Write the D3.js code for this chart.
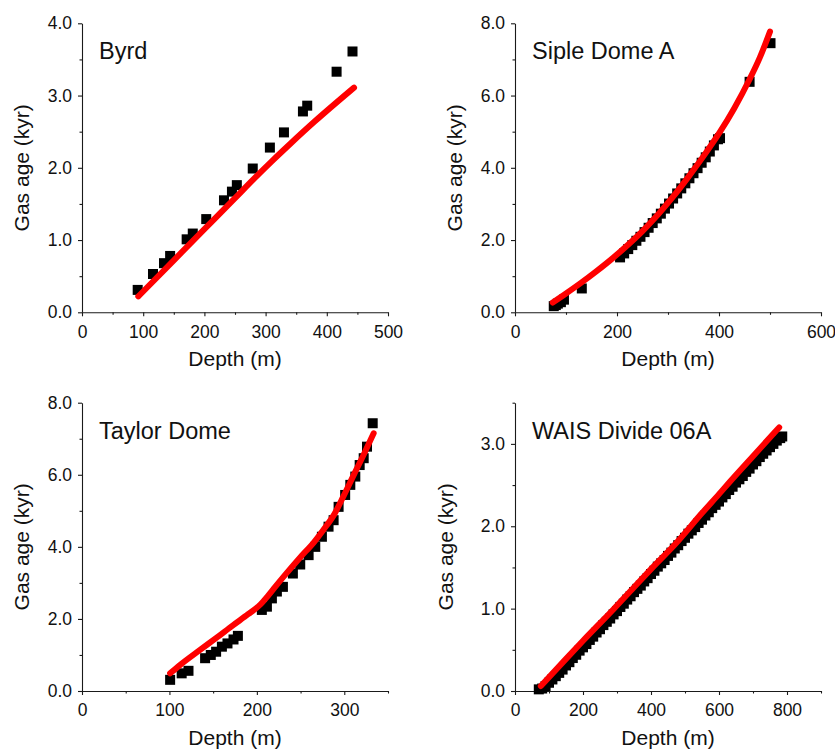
<!DOCTYPE html>
<html>
<head>
<meta charset="utf-8">
<script src="https://cdn.jsdelivr.net/npm/d3@7"></script>
<style>
  html, body { margin: 0; padding: 0; background: #fff; }
  svg { display: block; font-family: "Liberation Sans", Arial, Helvetica, sans-serif; }
</style>
</head>
<body>
<svg id="chart" width="835" height="751"></svg>
<script>
// ---- Byrd ----
const byrdDepth = [91, 116, 134, 144, 171, 181, 203, 232, 245, 253, 279, 307, 330, 361, 368, 416, 442];
const byrdAge   = [0.31, 0.53, 0.68, 0.78, 1.01, 1.09, 1.29, 1.55, 1.67, 1.76, 1.99, 2.28, 2.49, 2.78, 2.86, 3.33, 3.61];
const byrdFitDepth = [92, 150, 200, 250, 280, 310, 340, 380, 444.5];
const byrdFitAge   = [0.22, 0.72, 1.15, 1.58, 1.84, 2.09, 2.33, 2.64, 3.11];

// ---- Siple Dome A ----
const sipleDepth = [76, 80, 84, 90, 96, 131,
  206, 214, 222, 230, 238, 246, 254, 262, 270, 278, 286, 294, 302, 310,
  318, 326, 334, 342, 350, 358, 366, 374, 382, 390, 398, 402, 460, 501];
const sipleAge = [0.17, 0.20, 0.24, 0.28, 0.35, 0.66,
  1.52, 1.63, 1.75, 1.86, 1.98, 2.09, 2.22, 2.34, 2.47, 2.60, 2.73, 2.87, 3.01, 3.15,
  3.29, 3.43, 3.57, 3.71, 3.85, 3.99, 4.14, 4.29, 4.45, 4.62, 4.79, 4.82, 6.38, 7.45];
const sipleFitDepth = [74, 100, 130, 160, 190, 220, 250, 280, 310, 340, 370, 400, 430, 460, 480, 500];
const sipleFitAge   = [0.27, 0.52, 0.82, 1.14, 1.48, 1.85, 2.25, 2.70, 3.20, 3.75, 4.33, 4.95, 5.65, 6.45, 7.05, 7.77];

// ---- Taylor Dome ----
const taylorDepth = [100.8, 114, 121.8, 140.8, 147.3, 153.4, 160, 166.4, 173.3, 178.3,
  205.7, 211.5, 217.2, 222.9, 229.8, 241.2, 249.6, 259.2, 266.8, 274.4,
  282, 287.8, 293.5, 301, 306.9, 312.6, 317.6, 322.2, 326, 332.5];
const taylorAge = [0.31, 0.49, 0.56, 0.91, 1.00, 1.09, 1.23, 1.32, 1.43, 1.53,
  2.25, 2.34, 2.57, 2.76, 2.89, 3.26, 3.51, 3.77, 4.00, 4.28,
  4.56, 4.74, 5.11, 5.44, 5.72, 5.95, 6.27, 6.46, 6.78, 7.43];
const taylorFitDepth = [100.8, 112, 135, 154, 173, 190, 204, 212, 220, 234, 250, 265, 276, 288, 299, 310.7, 322, 333.6];
const taylorFitAge   = [0.49, 0.72, 1.14, 1.48, 1.83, 2.13, 2.40, 2.62, 2.86, 3.27, 3.72, 4.12, 4.47, 4.88, 5.40, 5.99, 6.55, 7.15];

// ---- WAIS Divide 06A ----
const waisDepth = [70, 80, 90, 100, 110, 120, 130, 140, 150, 160, 170, 180, 190, 200, 210, 220, 230, 240,
  250, 260, 270, 280, 290, 300, 310, 320, 330, 340, 350, 360, 370, 380, 390, 400, 410, 420, 430, 440,
  450, 460, 470, 480, 490, 500, 510, 520, 530, 540, 550, 560, 570, 580, 590, 600, 610, 620, 630, 640,
  650, 660, 670, 680, 690, 700, 710, 720, 730, 740, 750, 760, 770, 780, 786];
const waisAge = [0.02, 0.03, 0.06, 0.10, 0.14, 0.18, 0.22, 0.26, 0.31, 0.35, 0.40, 0.44, 0.49, 0.53, 0.57, 0.62, 0.66, 0.71,
  0.75, 0.80, 0.84, 0.88, 0.93, 0.97, 1.02, 1.06, 1.11, 1.15, 1.20, 1.24, 1.28, 1.33, 1.37, 1.42, 1.46, 1.51, 1.55, 1.59,
  1.64, 1.68, 1.73, 1.77, 1.82, 1.86, 1.91, 1.95, 1.99, 2.04, 2.08, 2.13, 2.17, 2.22, 2.26, 2.30, 2.35, 2.39, 2.44, 2.48,
  2.53, 2.57, 2.61, 2.66, 2.70, 2.75, 2.79, 2.84, 2.88, 2.92, 2.96, 3.00, 3.04, 3.07, 3.09];
const waisFitDepth = [76, 150, 200, 289, 350, 400, 475, 550, 600, 632, 700, 777];
const waisFitAge   = [0.06, 0.39, 0.61, 0.99, 1.26, 1.48, 1.80, 2.16, 2.39, 2.54, 2.85, 3.20];

// Axis tick values
const byrdXTicks = [0, 100, 200, 300, 400, 500], byrdYTicks = [0, 1, 2, 3, 4];
const sipleXTicks = [0, 200, 400, 600],          sipleYTicks = [0, 2, 4, 6, 8];
const taylorXTicks = [0, 100, 200, 300],         taylorYTicks = [0, 2, 4, 6, 8];
const waisXTicks = [0, 200, 400, 600, 800],      waisYTicks = [0, 1, 2, 3];

const panels = [
  { name: "Byrd", depth: byrdDepth, age: byrdAge, fitD: byrdFitDepth, fitA: byrdFitAge,
    xDom: [0, 500], yDom: [0, 4], xT: byrdXTicks, yT: byrdYTicks, xMinor: 50, yMinor: 0.5,
    xr: [82, 388], yr: [312.3, 23.3], titleX: 29, depthY: 366 },
  { name: "Siple Dome A", depth: sipleDepth, age: sipleAge, fitD: sipleFitDepth, fitA: sipleFitAge,
    xDom: [0, 600], yDom: [0, 8], xT: sipleXTicks, yT: sipleYTicks, xMinor: 100, yMinor: 1,
    xr: [515, 821], yr: [312.3, 23.3], titleX: 462, depthY: 366 },
  { name: "Taylor Dome", depth: taylorDepth, age: taylorAge, fitD: taylorFitDepth, fitA: taylorFitAge,
    xDom: [0, 350], yDom: [0, 8], xT: taylorXTicks, yT: taylorYTicks, xMinor: 50, yMinor: 1,
    xr: [82, 388], yr: [691, 402.7], titleX: 29, depthY: 745 },
  { name: "WAIS Divide 06A", depth: waisDepth, age: waisAge, fitD: waisFitDepth, fitA: waisFitAge,
    xDom: [0, 900], yDom: [0, 3.5], xT: waisXTicks, yT: waisYTicks, xMinor: 100, yMinor: 0.5,
    xr: [515, 821], yr: [691, 402.7], titleX: 453, depthY: 745 }
];

const svg = d3.select("#chart");
const axisColor = "#1a1a1a";
const fmtY = d3.format(".1f");

panels.forEach(p => {
  const x = d3.scaleLinear().domain(p.xDom).range(p.xr);
  const y = d3.scaleLinear().domain(p.yDom).range(p.yr);
  const g = svg.append("g");

  // minor ticks
  const xMinorVals = d3.range(p.xDom[0], p.xDom[1] + 1e-9, p.xMinor).filter(v => !p.xT.includes(v));
  const yMinorVals = d3.range(p.yDom[0], p.yDom[1] + 1e-9, p.yMinor).filter(v => !p.yT.some(t => Math.abs(t - v) < 1e-9));

  const gxm = g.append("g").attr("transform", `translate(0,${p.yr[0]})`)
    .call(d3.axisBottom(x).tickValues(xMinorVals).tickSize(2.5).tickFormat(""));
  gxm.select(".domain").remove();
  const gym = g.append("g").attr("transform", `translate(${p.xr[0]},0)`)
    .call(d3.axisLeft(y).tickValues(yMinorVals).tickSize(2.5).tickFormat(""));
  gym.select(".domain").remove();

  // major axes
  const gx = g.append("g").attr("transform", `translate(0,${p.yr[0]})`)
    .call(d3.axisBottom(x).tickValues(p.xT).tickSize(4).tickSizeOuter(0).tickPadding(9).tickFormat(d3.format("d")));
  const gy = g.append("g").attr("transform", `translate(${p.xr[0]},0)`)
    .call(d3.axisLeft(y).tickValues(p.yT).tickSize(4).tickSizeOuter(0).tickPadding(6).tickFormat(fmtY));

  [gx, gy, gxm, gym].forEach(a => {
    a.selectAll("path, line").attr("stroke", axisColor).attr("stroke-width", 1.1);
    a.selectAll("text").attr("fill", "#111").style("font-size", "17.5px")
      .style("font-family", '"Liberation Sans", Arial, sans-serif');
  });

  // axis titles
  g.append("text")
    .attr("x", (p.xr[0] + p.xr[1]) / 2).attr("y", p.depthY)
    .attr("text-anchor", "middle").attr("fill", "#111")
    .style("font-size", "21px").text("Depth (m)");
  g.append("text")
    .attr("transform", `translate(${p.titleX},${(p.yr[0] + p.yr[1]) / 2}) rotate(-90)`)
    .attr("text-anchor", "middle").attr("fill", "#111")
    .style("font-size", "21px").text("Gas age (kyr)");

  // core name
  g.append("text")
    .attr("x", p.xr[0] + 17).attr("y", p.yr[1] + 36)
    .attr("fill", "#111").style("font-size", "23.5px").text(p.name);

  // measured gas ages
  const sq = 10;
  g.append("g").selectAll("rect")
    .data(d3.zip(p.depth, p.age))
    .join("rect")
    .attr("x", d => x(d[0]) - sq / 2)
    .attr("y", d => y(d[1]) - sq / 2)
    .attr("width", sq).attr("height", sq)
    .attr("fill", "#000");

  // model curve
  const line = d3.line().x(d => x(d[0])).y(d => y(d[1])).curve(d3.curveMonotoneX);
  g.append("path")
    .datum(d3.zip(p.fitD, p.fitA))
    .attr("d", line)
    .attr("fill", "none")
    .attr("stroke", "#ff0000")
    .attr("stroke-width", 6)
    .attr("stroke-linecap", "round")
    .attr("stroke-linejoin", "round");
});
</script>
</body>
</html>
